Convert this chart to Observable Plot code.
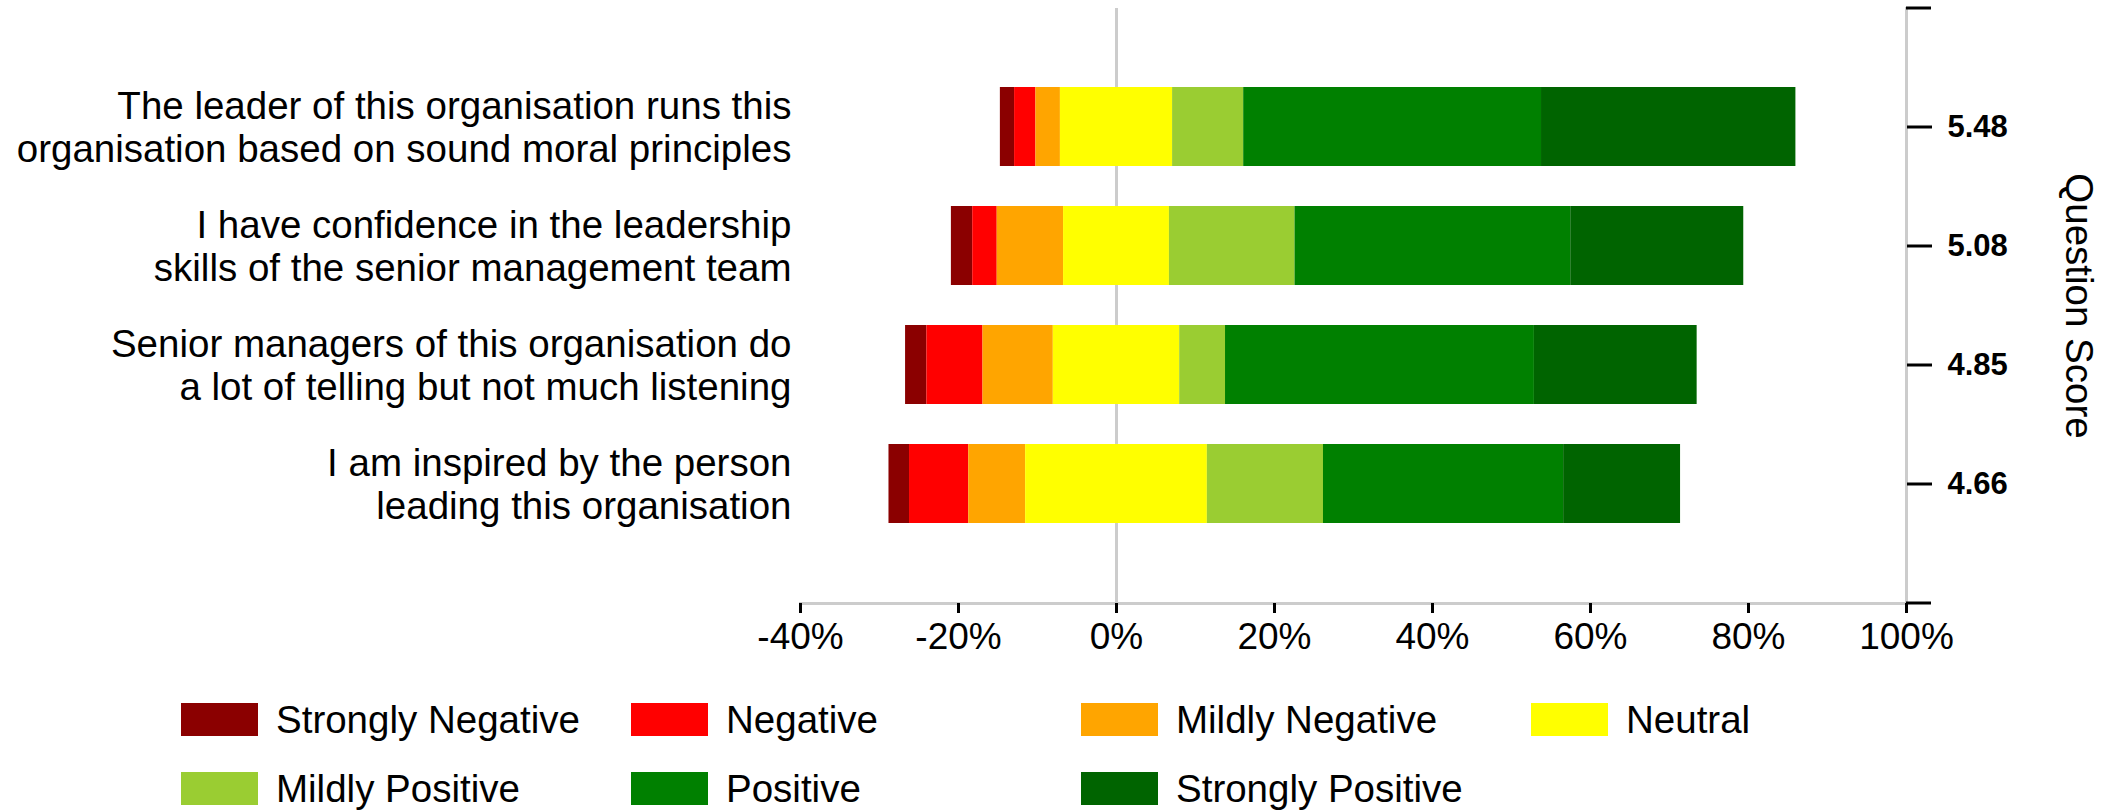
<!DOCTYPE html>
<html>
<head>
<meta charset="utf-8">
<script src="https://cdn.jsdelivr.net/npm/d3@7"></script>
<script src="https://cdn.jsdelivr.net/npm/@observablehq/plot@0.6"></script>
<style>
  body { margin: 0; background: #fff; font-family: "Liberation Sans", Arial, sans-serif; }
  #chart { position: relative; width: 2116px; height: 811px; overflow: hidden; }
  #legend { position: absolute; left: 181px; top: 703px; display: grid; grid-template-columns: repeat(4, 450px); row-gap: 36px; }
  .item { display: flex; align-items: center; height: 33px; }
  .sw { width: 77px; height: 33px; margin-right: 18px; flex: none; }
  .lab { font-size: 38.5px; line-height: 33px; color: #000; white-space: nowrap; }
</style>
</head>
<body>
<div id="chart"></div>
<script>
// ---- data ----
const questions = [
  "The leader of this organisation runs this\norganisation based on sound moral principles",
  "I have confidence in the leadership\nskills of the senior management team",
  "Senior managers of this organisation do\na lot of telling but not much listening",
  "I am inspired by the person\nleading this organisation"
];
const scores = ["5.48", "5.08", "4.85", "4.66"];
const categories = ["Strongly Negative", "Negative", "Mildly Negative", "Neutral", "Mildly Positive", "Positive", "Strongly Positive"];
const colors = ["#8b0000", "#ff0000", "#ffa500", "#ffff00", "#9acd32", "#008000", "#006400"];
const stronglyNegative = [1.8, 2.7, 2.7, 2.6];
const negative         = [2.7, 3.1, 7.1, 7.5];
const mildlyNegative   = [3.1, 8.4, 8.9, 7.2];
const neutral          = [14.2, 13.4, 16.0, 23.0];
const mildlyPositive   = [9.0, 15.9, 5.8, 14.7];
const positive         = [37.7, 34.9, 39.1, 30.4];
const stronglyPositive = [32.2, 21.9, 20.6, 14.8];
const xTicks = [-40, -20, 0, 20, 40, 60, 80, 100];

// ---- build segments (neutral centred on zero) ----
const series = [stronglyNegative, negative, mildlyNegative, neutral, mildlyPositive, positive, stronglyPositive];
const segments = [];
questions.forEach((q, i) => {
  let start = -(stronglyNegative[i] + negative[i] + mildlyNegative[i] + neutral[i] / 2);
  series.forEach((s, k) => {
    segments.push({question: q, category: categories[k], x1: start, x2: start + s[i]});
    start += s[i];
  });
});

const scoreOf = new Map(questions.map((q, i) => [q, scores[i]]));

function outerTicks(index, scales, values, dims) {
  const g = d3.create("svg:g").attr("stroke", "#000").attr("stroke-width", 3);
  const x = dims.width - dims.marginRight;
  for (const y of [dims.marginTop, dims.height - dims.marginBottom]) {
    g.append("line").attr("x1", x).attr("x2", x + 25).attr("y1", y).attr("y2", y);
  }
  return g.node();
}

const plot = Plot.plot({
  width: 2116,
  height: 665,
  marginLeft: 800,
  marginRight: 210,
  marginTop: 8,
  marginBottom: 62,
  style: {fontFamily: '"Liberation Sans", Arial, sans-serif', color: "#000", background: "#fff", overflow: "visible"},
  x: {domain: [-40, 100], axis: null},
  y: {domain: questions, paddingInner: 0.336, paddingOuter: 0.668, axis: null},
  color: {domain: categories, range: colors},
  marks: [
    Plot.ruleX([0], {stroke: "#cccccc", strokeWidth: 3}),
    Plot.barX(segments, {y: "question", x1: "x1", x2: "x2", fill: "category"}),
    Plot.frame({anchor: "bottom", stroke: "#cccccc", strokeWidth: 3}),
    Plot.frame({anchor: "right", stroke: "#cccccc", strokeWidth: 3}),
    Plot.axisX({ticks: xTicks, tickSize: 10, tickPadding: 9, tickFormat: d => d + "%", fontSize: 37, stroke: "#000", strokeWidth: 3, label: null}),
    Plot.axisY({anchor: "left", tickSize: 0, tickPadding: 9, fontSize: 38.5, lineHeight: 1.1, tickFormat: d => d, label: null}),
    Plot.axisY({anchor: "right", tickSize: 25, tickPadding: 16, fontSize: 31, fontWeight: "bold", stroke: "#000", strokeWidth: 3, tickFormat: d => scoreOf.get(d), label: null}),
    outerTicks,
    Plot.text(["Question Score"], {frameAnchor: "right", textAnchor: "middle", lineAnchor: "middle", rotate: 90, dx: 172, fontSize: 38.5, fill: "#000"})
  ]
});

const chart = document.getElementById("chart");
chart.appendChild(plot);

const legend = document.createElement("div");
legend.id = "legend";
categories.forEach((c, k) => {
  const item = document.createElement("div");
  item.className = "item";
  const sw = document.createElement("div");
  sw.className = "sw";
  sw.style.background = colors[k];
  const lab = document.createElement("span");
  lab.className = "lab";
  lab.textContent = c;
  item.appendChild(sw);
  item.appendChild(lab);
  legend.appendChild(item);
});
chart.appendChild(legend);
</script>
</body>
</html>
